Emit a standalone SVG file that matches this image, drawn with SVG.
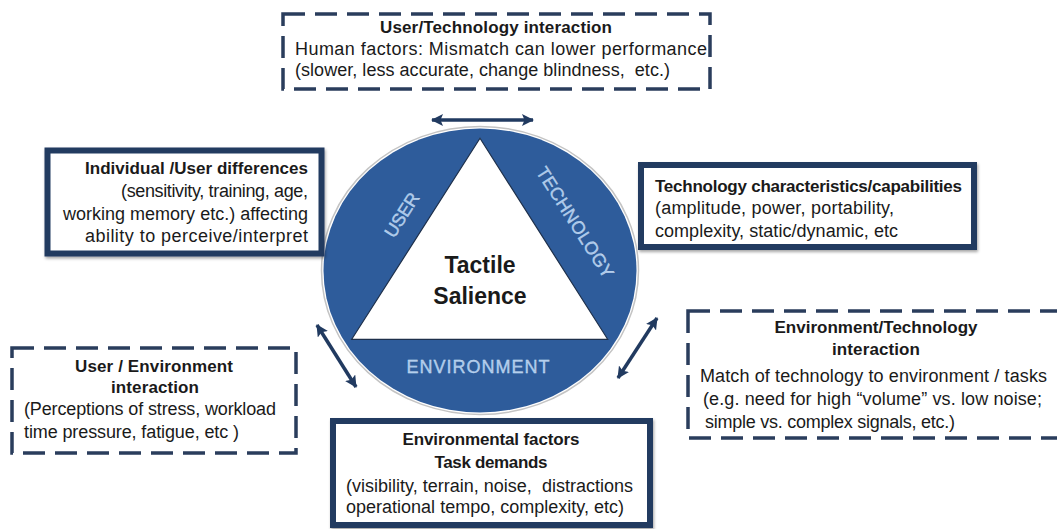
<svg xmlns="http://www.w3.org/2000/svg" width="1057" height="529" viewBox="0 0 1057 529">
<style>
.t{font-family:"Liberation Sans",Arial,sans-serif;font-size:18px;fill:#1a1a1a}
.b{font-weight:bold;font-size:17px}
.solid{fill:#fff;stroke:#213a60;stroke-width:6}
.dash{fill:#fff;stroke:#2a3d5c;stroke-width:3.5;stroke-dasharray:22 10}
.lbl{font-family:"Liberation Sans",Arial,sans-serif;font-size:18px;fill:#a9c6ea;stroke:#d4e3f5;stroke-width:0.3}
.arr{stroke:#213a60;stroke-width:3.5;fill:none;marker-start:url(#ah);marker-end:url(#ah)}
</style>
<defs>
<marker id="ah" viewBox="0 0 12 12" refX="11" refY="6" markerWidth="12" markerHeight="12" markerUnits="userSpaceOnUse" orient="auto-start-reverse">
<path d="M0,0 L12,6 L0,12 L2.5,6 Z" fill="#213a60"/>
</marker>
<filter id="sh" x="-10%" y="-10%" width="120%" height="130%">
<feDropShadow dx="1" dy="2" stdDeviation="1.5" flood-color="#000" flood-opacity="0.35"/>
</filter>
</defs>
<rect width="1057" height="529" fill="#fff"/>

<g id="center">
<ellipse cx="480" cy="270.5" rx="158.5" ry="144" fill="none" stroke="#c4c4c4" stroke-width="1.5"/>
<ellipse cx="480" cy="270.5" rx="156.5" ry="142" fill="#2e5c9b"/>
<polygon points="480,138.3 351.7,339.3 607.7,339.3" fill="#fff" stroke="#1d2f4a" stroke-width="1.2"/>
<text class="t b" x="480" y="273" text-anchor="middle" font-size="23" style="font-size:23px">Tactile</text>
<text class="t b" x="480" y="304" text-anchor="middle" style="font-size:23px">Salience</text>
<text class="lbl" x="478" y="373" text-anchor="middle" textLength="143">ENVIRONMENT</text>
<text class="lbl" transform="translate(402,215) rotate(-57.5)" x="0" y="6" text-anchor="middle" textLength="49">USER</text>
<text class="lbl" transform="translate(575,222.5) rotate(57.5)" x="0" y="6" text-anchor="middle" textLength="128">TECHNOLOGY</text>
</g>

<g id="user-technology">
<rect class="dash" x="283" y="14" width="427" height="75"/>
<text class="t b" x="496" y="33" text-anchor="middle" textLength="232">User/Technology interaction</text>
<text class="t" x="295" y="55" textLength="412">Human factors: Mismatch can lower performance</text>
<text class="t" x="295" y="76" textLength="375" xml:space="preserve">(slower, less accurate, change blindness,  etc.)</text>
</g>

<g id="individual">
<rect class="solid" x="47.5" y="150.5" width="274" height="103" filter="url(#sh)"/>
<text class="t b" x="308" y="174" text-anchor="end" textLength="223">Individual /User differences</text>
<text class="t" x="308" y="197" text-anchor="end" textLength="187">(sensitivity, training, age,</text>
<text class="t" x="308" y="220" text-anchor="end" textLength="245">working memory etc.) affecting</text>
<text class="t" x="308" y="242" text-anchor="end" textLength="223">ability to perceive/interpret</text>
</g>

<g id="technology">
<rect class="solid" x="641" y="165" width="333" height="82" filter="url(#sh)"/>
<text class="t b" x="655" y="192" textLength="307">Technology characteristics/capabilities</text>
<text class="t" x="655" y="214" textLength="239">(amplitude, power, portability,</text>
<text class="t" x="655" y="237" textLength="243">complexity, static/dynamic, etc</text>
</g>

<g id="user-environment">
<rect class="dash" x="12" y="348" width="284" height="105"/>
<text class="t b" x="154" y="372" text-anchor="middle" textLength="158">User / Environment</text>
<text class="t b" x="155" y="393" text-anchor="middle" textLength="88">interaction</text>
<text class="t" x="24" y="415" textLength="252">(Perceptions of stress, workload</text>
<text class="t" x="24" y="438" textLength="215">time pressure, fatigue, etc )</text>
</g>

<g id="environment-technology">
<rect class="dash" x="688" y="311" width="380" height="127"/>
<text class="t b" x="876" y="333" text-anchor="middle" textLength="203">Environment/Technology</text>
<text class="t b" x="876" y="355" text-anchor="middle" textLength="88">interaction</text>
<text class="t" x="700" y="382" textLength="347">Match of technology to environment / tasks</text>
<text class="t" x="703" y="405" textLength="339">(e.g. need for high “volume” vs. low noise;</text>
<text class="t" x="705" y="428" textLength="250">simple vs. complex signals, etc.)</text>
</g>

<g id="environmental">
<rect class="solid" x="333" y="421" width="317" height="104" filter="url(#sh)"/>
<text class="t b" x="491" y="445" text-anchor="middle" textLength="177">Environmental factors</text>
<text class="t b" x="491" y="468" text-anchor="middle" textLength="113">Task demands</text>
<text class="t" x="346" y="492" textLength="287" xml:space="preserve">(visibility, terrain, noise,  distractions</text>
<text class="t" x="346" y="513" textLength="278">operational tempo, complexity, etc)</text>
</g>

<g id="connectors">
<line class="arr" x1="432" y1="120" x2="533" y2="120"/>
<line class="arr" x1="317" y1="325" x2="356" y2="387"/>
<line class="arr" x1="657" y1="318" x2="618" y2="378"/>
</g>
</svg>
